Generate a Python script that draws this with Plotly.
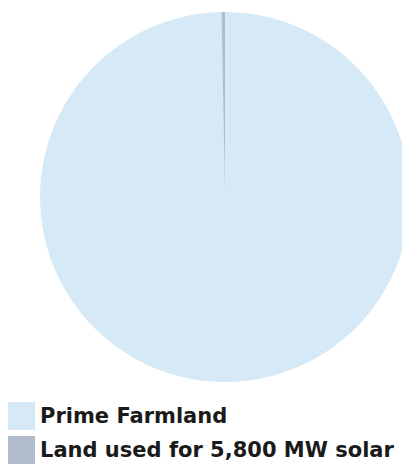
import plotly.graph_objects as go

labels = ["Prime Farmland", "Land used for 5,800 MW solar"]
values = [99.7, 0.3]
colors = ["#d6e9f6", "#b1bccd"]

W, H = 410, 466
OFF = 8  # page body margin offset

def px(x):
    return (x - OFF) / W

def py(y):
    return (H - (y - OFF)) / H

fig = go.Figure()
fig.add_trace(go.Pie(
    labels=labels,
    values=values,
    sort=False,
    direction="clockwise",
    rotation=0,
    marker=dict(colors=colors, line=dict(width=0)),
    textinfo="none",
    showlegend=False,
    domain=dict(x=[px(40), px(410)], y=[py(382), py(12)]),
))

# manual legend (large square swatches)
legend_y = [416, 450]
shapes = []
annotations = []
for lab, col, yc in zip(labels, colors, legend_y):
    shapes.append(dict(type="rect", xref="paper", yref="paper",
                       x0=px(7), x1=px(35),
                       y0=py(yc + 14), y1=py(yc - 14),
                       fillcolor=col, line=dict(width=0)))
    annotations.append(dict(xref="paper", yref="paper", x=px(38), y=py(yc),
                            xanchor="left", yanchor="middle", showarrow=False,
                            text="<b>" + lab + "</b>",
                            font=dict(family="DejaVu Sans", size=21, color="#1a1a1a")))

fig.update_layout(
    width=W, height=H,
    margin=dict(l=0, r=0, t=0, b=0),
    paper_bgcolor="white",
    plot_bgcolor="white",
    shapes=shapes,
    annotations=annotations,
)

fig.write_html("out.html")
